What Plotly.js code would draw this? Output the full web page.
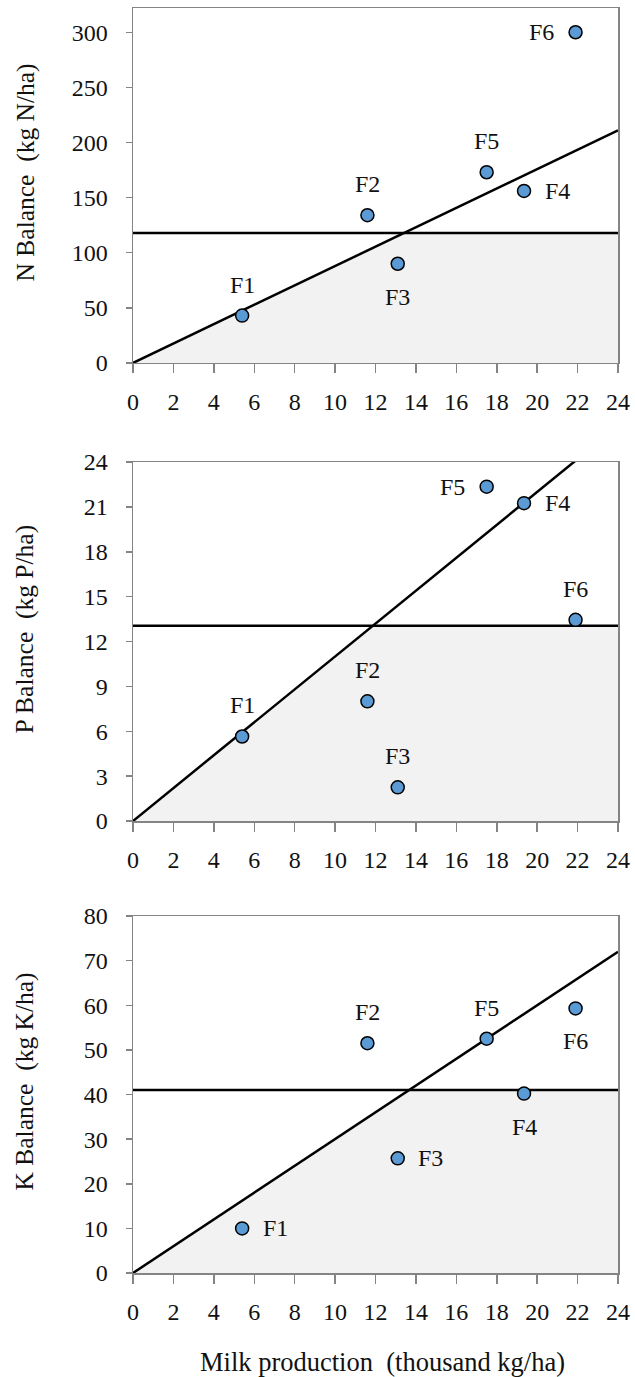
<!DOCTYPE html>
<html>
<head>
<meta charset="utf-8">
<script src="https://cdn.plot.ly/plotly-3.0.1.min.js"></script>
<style>html,body{margin:0;padding:0;background:#fff}#chart{width:635px;height:1377px}</style>
</head>
<body>
<div id="chart"></div>
<script>
// ---- data ----
const farms = ['F1', 'F2', 'F3', 'F4', 'F5', 'F6'];
const milkProduction = [5.4, 11.6, 13.1, 19.35, 17.5, 21.9];
const nBalance = [43, 134, 90, 156, 173, 300];
const pBalance = [5.65, 8.0, 2.25, 21.25, 22.35, 13.45];
const kBalance = [10, 51.5, 25.7, 40.2, 52.5, 59.3];
const thresholds = [118, 13.05, 41];          // N, P, K horizontal reference
const diagonalAt24 = [211, 26.4, 72];         // N, P, K sloped line value at x = 24
const xMax = 24;
const yTitles = ['N Balance\u00a0 (kg N/ha)', 'P Balance\u00a0 (kg P/ha)', 'K Balance\u00a0 (kg K/ha)'];
const xTickVals = [0, 2, 4, 6, 8, 10, 12, 14, 16, 18, 20, 22, 24];
const yTicks = [[0, 50, 100, 150, 200, 250, 300], [0, 3, 6, 9, 12, 15, 18, 21, 24], [0, 10, 20, 30, 40, 50, 60, 70, 80]];
const yRanges = [[0, 322], [0, 24], [0, 80]];
const xTitle = 'Milk production\u00a0 (thousand kg/ha)';

// label placement (style)
const labelPos = [
  ['t', 't', 'b', 'r', 't', 'l'],
  ['t', 't', 't', 'r', 'l', 't'],
  ['r', 't', 'r', 'b', 't', 'b']
];

const series = [nBalance, pBalance, kBalance];
const FONT = "'Liberation Serif', 'Times New Roman', serif";
const GRAY = '#848484';
const TXT = '#111';
const traces = [];
const annotations = [];
const layout = {
  width: 635, height: 1377,
  margin: {l: 133, r: 17, t: 8, b: 104},
  paper_bgcolor: '#fff', plot_bgcolor: '#fff',
  showlegend: false,
  font: {family: FONT, size: 24, color: TXT}
};
const domains = [[0.7194, 1.0], [0.3573, 0.6411], [0.0, 0.2822]];

for (let i = 0; i < 3; i++) {
  const sx = i === 0 ? 'x' : 'x' + (i + 1);
  const sy = i === 0 ? 'y' : 'y' + (i + 1);
  const h = thresholds[i];
  const slope = diagonalAt24[i] / xMax;
  const xi = h / slope;
  traces.push({
    x: [0, xi, xMax, xMax, 0], y: [0, h, h, 0, 0],
    xaxis: sx, yaxis: sy, mode: 'lines', fill: 'toself',
    fillcolor: '#f2f2f2', line: {width: 0}, hoverinfo: 'skip'
  });
  traces.push({
    x: [0, xMax], y: [h, h], xaxis: sx, yaxis: sy, mode: 'lines',
    line: {color: '#000', width: 2.5}, hoverinfo: 'skip'
  });
  traces.push({
    x: [0, xMax], y: [0, diagonalAt24[i]], xaxis: sx, yaxis: sy, mode: 'lines',
    line: {color: '#000', width: 2.5}, hoverinfo: 'skip'
  });
  traces.push({
    x: milkProduction, y: series[i], xaxis: sx, yaxis: sy, mode: 'markers',
    marker: {size: 13, color: '#5B9BD5', line: {color: '#000', width: 1.5}},
    cliponaxis: false
  });
  farms.forEach((f, j) => {
    const p = labelPos[i][j];
    annotations.push({
      x: milkProduction[j], y: series[i][j], xref: sx, yref: sy,
      text: f, showarrow: false,
      xshift: p === 'r' ? 33 : (p === 'l' ? -34 : 0),
      yshift: p === 't' ? 31 : (p === 'b' ? -33 : 0),
      font: {family: FONT, size: 24, color: TXT}
    });
  });
  layout[i === 0 ? 'xaxis' : 'xaxis' + (i + 1)] = {
    domain: [0, 1], anchor: sy, range: [0, xMax], tickvals: xTickVals,
    ticks: 'outside', ticklen: 9, tickwidth: 1.5, tickcolor: GRAY,
    ticklabelstandoff: 8,
    showline: true, linecolor: GRAY, linewidth: 1.5, mirror: true,
    showgrid: false, zeroline: false,
    tickfont: {family: FONT, size: 24, color: TXT}
  };
  layout[i === 0 ? 'yaxis' : 'yaxis' + (i + 1)] = {
    domain: domains[i], anchor: sx, range: yRanges[i], tickvals: yTicks[i],
    ticks: 'outside', ticklen: 6, tickwidth: 1.5, tickcolor: GRAY,
    ticklabelstandoff: 13,
    showline: true, linecolor: GRAY, linewidth: 1.5, mirror: true,
    showgrid: false, zeroline: false,
    tickfont: {family: FONT, size: 24, color: TXT}
  };
  annotations.push({
    xref: 'paper', yref: 'paper', x: -0.2227, y: (domains[i][0] + domains[i][1]) / 2,
    xanchor: 'center', yanchor: 'middle', yshift: 13, textangle: -90,
    text: yTitles[i], showarrow: false,
    font: {family: FONT, size: 25.5, color: TXT}
  });
}
annotations.push({
  xref: 'paper', yref: 'paper', x: 0.515, y: -0.0704,
  xanchor: 'center', yanchor: 'middle', text: xTitle, showarrow: false,
  font: {family: FONT, size: 26.5, color: TXT}
});
layout.annotations = annotations;
Plotly.newPlot('chart', traces, layout, {staticPlot: true, displayModeBar: false});
</script>
</body>
</html>
